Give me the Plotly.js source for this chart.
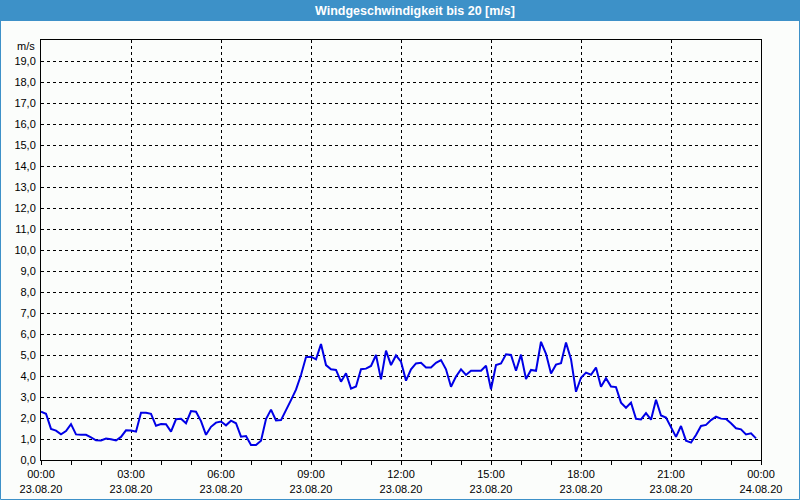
<!DOCTYPE html>
<html>
<head>
<meta charset="utf-8">
<script src="https://cdn.plot.ly/plotly-3.0.1.min.js"></script>
<style>html,body{margin:0;padding:0;background:#fbfdfb;}#chart{width:800px;height:500px;}</style>
</head>
<body>
<div id="chart"></div>
<script>
// Wind speed [m/s], one value every 10 minutes, 23.08.20 00:00 .. 23:50
var windSpeed = [
  2.30, 2.20, 1.48, 1.40, 1.22, 1.38, 1.71, 1.22, 1.20, 1.20,
  1.08, 0.94, 0.93, 1.02, 0.99, 0.93, 1.10, 1.41, 1.40, 1.35,
  2.25, 2.25, 2.20, 1.63, 1.71, 1.70, 1.35, 1.94, 1.96, 1.75,
  2.33, 2.30, 1.85, 1.20, 1.58, 1.78, 1.83, 1.65, 1.87, 1.75,
  1.11, 1.14, 0.71, 0.71, 0.92, 1.95, 2.40, 1.88, 1.90, 2.35,
  2.85, 3.35, 4.05, 4.90, 4.92, 4.79, 5.52, 4.52, 4.32, 4.29,
  3.73, 4.13, 3.40, 3.50, 4.32, 4.35, 4.48, 5.00, 3.84, 5.21,
  4.52, 4.98, 4.68, 3.78, 4.32, 4.60, 4.63, 4.41, 4.41, 4.63,
  4.76, 4.32, 3.49, 3.97, 4.32, 4.05, 4.25, 4.25, 4.25, 4.49,
  3.37, 4.52, 4.60, 5.03, 5.00, 4.25, 5.02, 3.86, 4.29, 4.25,
  5.63, 5.06, 4.12, 4.54, 4.61, 5.59, 4.80, 3.25, 3.92, 4.16,
  4.06, 4.40, 3.49, 3.89, 3.50, 3.47, 2.73, 2.49, 2.73, 1.96,
  1.93, 2.23, 1.92, 2.87, 2.12, 2.02, 1.55, 1.10, 1.62, 0.92,
  0.83, 1.19, 1.62, 1.67, 1.90, 2.06, 1.97, 1.95, 1.75, 1.51,
  1.46, 1.22, 1.27, 1.03
];
var stepMinutes = 10;
var xTickVals = [0, 3, 6, 9, 12, 15, 18, 21, 24];
var xTickTimes = ['00:00','03:00','06:00','09:00','12:00','15:00','18:00','21:00','00:00'];
var xTickDates = ['23.08.20','23.08.20','23.08.20','23.08.20','23.08.20','23.08.20','23.08.20','23.08.20','24.08.20'];
var yTickVals = [0,1,2,3,4,5,6,7,8,9,10,11,12,13,14,15,16,17,18,19];
var yTickText = ['0,0','1,0','2,0','3,0','4,0','5,0','6,0','7,0','8,0','9,0','10,0','11,0','12,0','13,0','14,0','15,0','16,0','17,0','18,0','19,0'];
var chartTitle = 'Windgeschwindigkeit bis 20 [m/s]';
var unitLabel = 'm/s';

var hours = windSpeed.map(function(v, i){ return i * stepMinutes / 60; });
var xTickText = xTickTimes.map(function(t, i){ return t + '<br>' + xTickDates[i]; });

// pixel helpers (plot area 41..761 x, 40..460 y)
function px(x){ return (x - 41) / 720; }
function py(y){ return (460 - y) / 420; }

var trace = {
  x: hours, y: windSpeed, type: 'scatter', mode: 'lines',
  line: {color: '#0000e6', width: 2}, hoverinfo: 'skip'
};
var axisFont = {family: 'Liberation Sans, Arial, sans-serif', size: 11, color: '#000'};
var layout = {
  width: 800, height: 500,
  margin: {l: 41, r: 39, t: 40, b: 40, pad: 0},
  paper_bgcolor: '#fbfdfb', plot_bgcolor: '#fbfdfb',
  showlegend: false,
  font: axisFont,
  xaxis: {
    range: [0, 24], tickmode: 'array', tickvals: xTickVals, ticktext: xTickText,
    showgrid: true, gridcolor: '#000', gridwidth: 1, griddash: '3px,3px',
    showline: true, linecolor: '#000', linewidth: 1, mirror: true,
    ticks: 'outside', ticklen: 4, tickcolor: '#000', tickfont: axisFont,
    minor: {dtick: 1, tick0: 0, ticks: 'outside', ticklen: 4, tickcolor: '#000', showgrid: false},
    zeroline: false, fixedrange: true
  },
  yaxis: {
    range: [0, 20], tickmode: 'array', tickvals: yTickVals, ticktext: yTickText,
    showgrid: true, gridcolor: '#000', gridwidth: 1, griddash: '3px,3px',
    showline: true, linecolor: '#000', linewidth: 1, mirror: true,
    ticks: '', tickfont: axisFont, ticklabelstandoff: 2,
    zeroline: false, fixedrange: true
  },
  shapes: [
    {type: 'rect', xref: 'paper', yref: 'paper', x0: px(0), x1: px(800), y0: py(21), y1: py(0),
     fillcolor: '#3d91c8', line: {width: 0}, layer: 'below'},
    {type: 'rect', xref: 'paper', yref: 'paper', x0: px(0.5), x1: px(799.5), y0: py(499.5), y1: py(0.5),
     fillcolor: 'rgba(0,0,0,0)', line: {width: 1, color: '#3d91c8'}, layer: 'above'}
  ],
  annotations: [
    {text: '<b>' + chartTitle + '</b>', xref: 'paper', yref: 'paper', x: px(415), y: py(10.5),
     xanchor: 'center', yanchor: 'middle', showarrow: false,
     font: {family: 'Liberation Sans, Arial, sans-serif', size: 12.5, color: '#ffffff'}},
    {text: unitLabel, xref: 'paper', yref: 'paper', x: px(37), y: py(46.5),
     xanchor: 'right', yanchor: 'middle', showarrow: false, font: axisFont}
  ]
};
Plotly.newPlot('chart', [trace], layout, {displayModeBar: false, staticPlot: true});
</script>
</body>
</html>
